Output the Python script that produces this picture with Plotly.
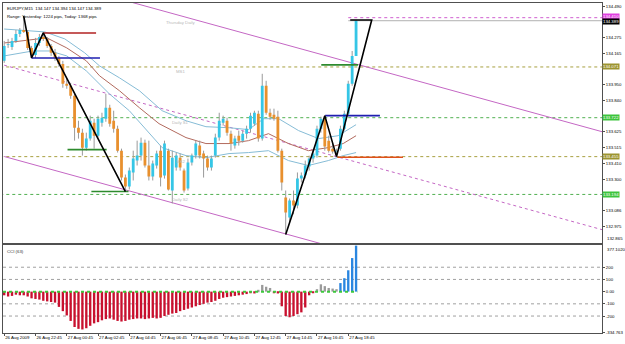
import plotly.graph_objects as go

# ---------------- data ----------------
bars = list(range(91))
opens = [134.113,134.223,134.209,134.250,134.298,134.325,134.312,134.202,134.154,134.236,
134.277,134.264,134.216,134.168,134.133,134.092,133.955,133.941,133.873,133.653,
133.619,133.516,133.578,133.688,133.598,133.688,133.715,133.790,133.701,133.646,
133.495,133.310,133.249,133.345,133.427,133.461,133.550,133.393,133.317,133.393,
133.495,133.324,133.495,133.221,133.379,133.447,133.358,133.235,133.413,133.461,
133.530,133.475,133.441,133.379,133.461,133.585,133.688,133.701,133.612,133.530,
133.598,133.564,133.612,133.646,133.681,133.749,133.578,133.941,133.756,133.742,
133.729,133.495,133.173,133.036,133.153,133.118,133.303,133.324,133.386,133.441,
133.461,133.646,133.715,133.564,133.509,133.489,133.509,133.646,133.749,133.955,
134.147]
highs = [134.250,134.264,134.271,134.325,134.339,134.421,134.325,134.216,134.271,134.298,
134.305,134.277,134.229,134.195,134.147,134.113,133.989,133.962,133.886,133.701,
133.646,133.619,133.736,133.715,133.736,133.756,133.886,133.811,133.770,133.667,
133.509,133.331,133.379,133.495,133.564,133.585,133.571,133.564,133.427,133.495,
133.530,133.564,133.509,133.495,133.482,133.475,133.372,133.441,133.475,133.564,
133.564,133.495,133.461,133.461,133.612,133.756,133.736,133.722,133.633,133.598,
133.633,133.633,133.667,133.756,133.770,133.770,134.024,133.976,133.784,133.784,
133.770,133.509,133.221,133.166,133.221,133.345,133.345,133.427,133.461,133.495,
133.667,133.729,133.736,133.598,133.550,133.509,133.667,133.770,133.976,134.181,
134.394]
lows = [134.099,134.202,134.188,134.236,134.277,134.305,134.188,134.133,134.133,134.216,
134.250,134.202,134.147,134.113,134.072,133.928,133.921,133.852,133.564,133.578,
133.461,133.495,133.564,133.509,133.585,133.660,133.694,133.660,133.619,133.482,
133.290,133.214,133.228,133.290,133.393,133.427,133.379,133.290,133.290,133.372,
133.249,133.303,133.221,133.132,133.358,133.358,133.207,133.221,133.393,133.441,
133.441,133.310,133.358,133.358,133.447,133.564,133.667,133.598,133.495,133.509,
133.530,133.550,133.578,133.619,133.667,133.557,133.564,133.742,133.708,133.701,
133.482,133.221,132.919,133.002,133.057,133.098,133.276,133.303,133.358,133.413,
133.447,133.619,133.495,133.482,133.475,133.454,133.495,133.633,133.736,133.941,
134.147]
closes = [134.216,134.229,134.250,134.298,134.325,134.312,134.202,134.154,134.236,134.277,
134.264,134.216,134.168,134.133,134.092,133.955,133.941,133.873,133.653,133.619,
133.516,133.578,133.701,133.598,133.715,133.722,133.790,133.681,133.646,133.495,
133.310,133.249,133.358,133.441,133.461,133.550,133.393,133.317,133.406,133.475,
133.310,133.544,133.228,133.447,133.461,133.379,133.221,133.413,133.461,133.544,
133.461,133.441,133.379,133.441,133.585,133.701,133.715,133.619,133.544,133.578,
133.564,133.612,133.646,133.736,133.756,133.578,133.941,133.756,133.729,133.715,
133.495,133.276,133.070,133.153,133.118,133.303,133.324,133.393,133.441,133.475,
133.646,133.715,133.523,133.495,133.489,133.495,133.646,133.749,133.955,134.147,
134.389]

cci = [-30,-40,-35,-25,-30,-30,-40,-55,-60,-65,
-75,-80,-85,-90,-125,-160,-195,-240,-290,-305,
-310,-300,-280,-260,-250,-235,-225,-220,-230,-240,
-245,-240,-230,-225,-220,-220,-225,-220,-215,-220,
-215,-200,-190,-180,-175,-160,-150,-140,-130,-120,
-110,-100,-90,-85,-75,-60,-50,-45,-40,-35,
-30,-25,-20,-10,-15,15,55,40,30,-10,
-15,-120,-200,-210,-200,-185,-170,-130,-30,-10,
20,60,45,30,25,20,70,110,175,275,
377.102]

# Bollinger-like bands (read at sparse bars)
band_up_x = [0,4,10.4,15.5,20.6,24.4,29.5,34.6,40.4,46.5,51.6,57.5,62.5,66.4,70.2,75.3,80.4,85.4,90]
band_up_y = [134.332,134.325,134.312,134.264,134.168,134.078,133.996,133.907,133.770,133.701,133.660,133.653,133.640,133.715,133.715,133.633,133.578,133.598,133.674]
band_mid_x = [0,6.6,10.9,16,21,24.4,29.5,34.6,39.6,46.5,51.6,57.5,62.5,67.6,72.7,77.8,82.9,86.7,90]
band_mid_y = [134.236,134.257,134.271,134.202,134.113,134.010,133.907,133.790,133.681,133.585,133.544,133.544,133.564,133.612,133.544,133.495,133.516,133.544,133.598]
band_lo_x = [0,7.3,11.7,16,21,26.9,32,40.4,46.5,51.6,57.5,62.5,67.6,72.7,77.8,82.9,86.7,90]
band_lo_y = [134.147,134.181,134.181,134.147,134.044,133.886,133.770,133.516,133.461,133.447,133.475,133.482,133.495,133.427,133.393,133.427,133.461,133.482]

# zigzag drawings
zz1_x = [5, 7, 10, 31]
zz1_y = [134.421, 134.133, 134.305, 133.214]
zz2_x = [72, 82, 85, 94, 88.5]
zz2_y = [132.919, 133.736, 133.454, 134.394, 134.394]

# horizontal pattern segments
seg_x0 = [10, 7, 16.2, 22.3, 81.1, 82.1, 85.2]
seg_x1 = [23.5, 24.5, 26.2, 31.8, 90.5, 96.1, 102]
seg_p = [134.305, 134.133, 133.502, 133.214, 134.085, 133.736, 133.450]
seg_c = ["#b22222", "#1f1fb0", "#2e8b2e", "#2e8b2e", "#2e8b2e", "#1f1fb0", "#e0501a"]

# regression channel (endpoints)
chan_x = [0, 153]
chan_up = [134.757, 133.625]
chan_mid = [134.083, 132.951]
chan_lo = [133.455, 132.323]

# pivot levels
piv_p = [134.410, 134.071, 133.722, 133.454, 133.194]
piv_lbl = ["Thursday Daily", "MS1", "Daily S1", "MS2", "Daily S2"]
piv_tag = ["134.410", "134.071", "133.722", "133.455", "133.194"]
bid = 134.389

price_ticks = [134.490, 134.275, 134.165, 133.950, 133.840, 133.625, 133.515, 133.410, 133.300, 133.086, 132.975]
price_tick_txt = ["134.490", "134.275", "134.165", "133.950", "133.840", "133.625", "133.515", "133.410", "133.300", "133.086", "132.975"]
price_min_lbl = 132.865
cci_ticks = [200, 100, 0, -100, -200, -334.763]
cci_tick_txt = ["200", "100", "0.00", "-100", "-200", "-334.763"]
cci_max_lbl = 377.102
date_ticks = [0, 8, 16, 24, 32, 40, 48, 56, 64, 72, 80, 88]
date_txt = ["26 Aug 2009", "26 Aug 22:45", "27 Aug 00:45", "27 Aug 02:45", "27 Aug 04:45", "27 Aug 06:45",
            "27 Aug 08:45", "27 Aug 10:45", "27 Aug 12:45", "27 Aug 14:45", "27 Aug 16:45", "27 Aug 18:45"]

# ---------------- figure ----------------
FONT = "Liberation Sans"
FS = 4.3
UP, DN = "#35c6e6", "#e8902e"
PIV_COL = ["#d060d0", "#a8a040", "#50b050", "#a8a040", "#50b050"]
TAG_BG = ["#e040e0", "#9c9430", "#3cc43c", "#9c9430", "#3cc43c"]
fig = go.Figure()

def line(x, y, color, width=1, dash="solid", xa="x", ya="y"):
    fig.add_trace(go.Scatter(x=x, y=y, mode="lines", line=dict(color=color, width=width, dash=dash),
                             hoverinfo="skip", xaxis=xa, yaxis=ya))

# pivot dotted lines
for k, (p, c) in enumerate(zip(piv_p, PIV_COL)):
    line([88 if k == 0 else -1, 160], [p, p], c, 1, "dot")
# bid line
line([88, 160], [bid, bid], "#b0b0b0")
# channel
line(chan_x, chan_up, "#c467c4")
line(chan_x, chan_lo, "#c467c4")
line(chan_x, chan_mid, "#c467c4", 1, "dot")
# bands
line(band_up_x, band_up_y, "#86bcd6")
line(band_lo_x, band_lo_y, "#86bcd6")
line(band_mid_x, band_mid_y, "#b26a5e")

# wicks
wx, wy = [], []
for i, h, l in zip(bars, highs, lows):
    wx += [i, i, None]
    wy += [l, h, None]
line(wx, wy, "#9a9a9a", 1)
# bodies (thick line segments, so they sit above the wicks)
for up in (True, False):
    bx, by = [], []
    for i, o, c in zip(bars, opens, closes):
        if (c >= o) != up:
            continue
        lo_, hi_ = min(o, c), max(o, c)
        if hi_ - lo_ < 0.004:
            m = (hi_ + lo_) / 2
            lo_, hi_ = m - 0.002, m + 0.002
        bx += [i, i, None]
        by += [lo_, hi_, None]
    line(bx, by, UP if up else DN, 2.8)

# pattern segments
for x0, x1, p, c in zip(seg_x0, seg_x1, seg_p, seg_c):
    line([x0, x1], [p, p], c, 1.6)
# zigzags
line(zz1_x, zz1_y, "black", 1.6)
line(zz2_x, zz2_y, "black", 1.6)

# CCI
cci_c = ["#c8102e" if v < 0 else ("#9a9a9a" if v < 65 else "#2a86e0") for v in cci]
fig.add_trace(go.Bar(x=bars, y=cci, width=0.6, marker=dict(color=cci_c, line=dict(width=0)),
                     hoverinfo="skip", xaxis="x2", yaxis="y2"))
line([-0.3, 90.3], [0, 0], "#3cc83c", 2, "dot", "x2", "y2")

shapes = []
for lv in [200, 100, -100, -200]:
    shapes.append(dict(type="line", xref="x2 domain", x0=0, x1=1, yref="y2", y0=lv, y1=lv,
                       line=dict(color="#a0a0a0", width=1, dash="dot"), layer="below"))

def txt(t, **kw):
    d = dict(text=t, showarrow=False, font=dict(size=FS, color="black", family=FONT))
    d.update(kw)
    return d

annotations = [
    txt("EURJPY,M15  134.147 134.394 134.147 134.389", xref="paper", yref="paper", x=0.003, y=0.9955,
        xanchor="left", yanchor="top"),
    txt("Range: Yesterday: 1224 pips, Today: 1368 pips", xref="paper", yref="paper", x=0.003, y=0.974,
        xanchor="left", yanchor="top"),
    txt("CCI (63)", xref="paper", yref="paper", x=0.003, y=0.262, xanchor="left", yanchor="top",
        font=dict(size=FS, color="#333", family=FONT)),
    txt(f"{price_min_lbl:.3f}", xref="paper", yref="y", x=1.0, y=price_min_lbl, xanchor="left",
        yanchor="bottom", xshift=3, yshift=-1),
    txt(f"{cci_max_lbl:.4f}", xref="paper", yref="y2", x=1.0, y=cci_max_lbl, xanchor="left",
        yanchor="top", xshift=3, yshift=1),
]
for p, t in zip(piv_p, piv_lbl):
    annotations.append(txt(t, x=45.2, y=p, xref="x", yref="y", yanchor="top", yshift=-0.5,
                           font=dict(size=FS, color="#b8b8b8", family=FONT)))
for k, (p, t, bg) in enumerate(zip(piv_p, piv_tag, TAG_BG)):
    annotations.append(txt(t, x=1.0, y=p, xref="paper", yref="y", xanchor="left", bgcolor=bg, borderpad=0,
                           yshift=1 if k == 0 else 0, font=dict(size=FS, color="white", family=FONT)))
annotations.append(txt(f"{bid:.3f}", x=1.0, y=bid, xref="paper", yref="y", xanchor="left", bgcolor="black",
                       borderpad=0, yshift=-1, font=dict(size=FS, color="white", family=FONT)))

axis_common = dict(showline=True, mirror=True, linecolor="#505050", linewidth=1, showgrid=False, zeroline=False)
tick_common = dict(tickmode="array", ticks="outside", ticklen=2, tickcolor="#505050",
                   tickfont=dict(size=FS, family=FONT, color="black"))
fig.update_layout(
    width=625, height=344,
    margin=dict(l=3, r=20, t=2, b=11),
    paper_bgcolor="white", plot_bgcolor="white",
    showlegend=False,
    font=dict(family=FONT, size=FS, color="black"),
    xaxis=dict(domain=[0, 1], anchor="y", range=[-0.305, 152.9], showticklabels=False, ticks="", **axis_common),
    xaxis2=dict(domain=[0, 1], anchor="y2", matches="x", range=[-0.305, 152.9], tickvals=date_ticks,
                ticktext=date_txt, tickangle=0, ticklabelposition="outside right", **tick_common, **axis_common),
    yaxis=dict(domain=[0.2719, 1], anchor="x", side="right", range=[132.858, 134.511], tickvals=price_ticks,
               ticktext=price_tick_txt, **tick_common, **axis_common),
    yaxis2=dict(domain=[0, 0.2659], anchor="x2", side="right", range=[-339, 380], tickvals=cci_ticks,
                ticktext=cci_tick_txt, **tick_common, **axis_common),
    shapes=shapes, annotations=annotations,
)

fig.write_html("out.html")
